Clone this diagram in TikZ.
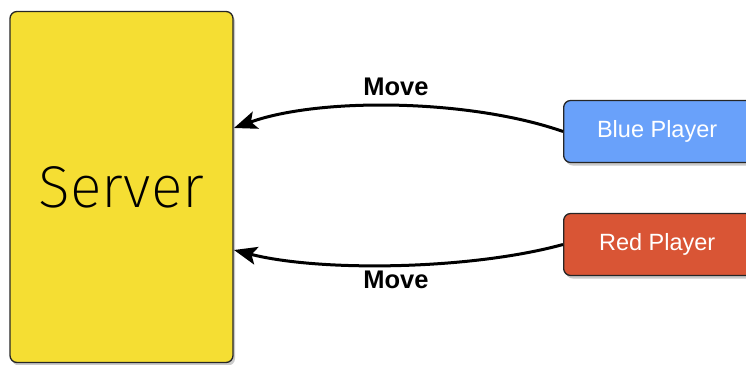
\documentclass[tikz,border=0pt]{standalone}
\usepackage{fontspec}
\setmainfont{Liberation Sans}
\newfontfamily\lightfont{Fira Sans}[UprightFont={* ExtraLight}]
\usetikzlibrary{arrows.meta,shadows}
\definecolor{srvyellow}{HTML}{F5DE33}
\definecolor{plblue}{HTML}{69A1FA}
\definecolor{plred}{HTML}{D95535}
\begin{document}
\begin{tikzpicture}[x=1pt,y=-1pt,
  boxstyle/.style={draw=black!85,line width=1.3pt,rounded corners=7pt,
    drop shadow={shadow xshift=2pt,shadow yshift=-3pt,opacity=0.35,fill=black!60}},
  playerbox/.style={boxstyle,minimum width=200pt,minimum height=62pt,text=white,
    font=\fontsize{23.5}{26}\selectfont,inner sep=0pt},
  movearrow/.style={line width=3pt,-{Stealth[length=23pt,width=18pt,inset=5pt]}},
  movelabel/.style={font=\bfseries\fontsize{25.5}{28}\selectfont}]
\useasboundingbox (0,0) rectangle (746,364);
\clip (0,0) rectangle (746,364);
\node[boxstyle,fill=srvyellow,minimum width=223pt,minimum height=351pt,inner sep=0pt,
  font=\lightfont\fontsize{59}{66}\selectfont] (server) at (121.5,187) {Server};
\node[playerbox,fill=plblue,anchor=west] (blue) at (563,131.5) {\hspace*{-13pt}Blue Player};
\node[playerbox,fill=plred,anchor=west] (red) at (563,244.5) {\hspace*{-13pt}Red Player};
\coordinate (s1) at (234,128);
\coordinate (s2) at (234,250);
\draw[movearrow] (blue.west) .. controls (470,99) and (320,97) .. (s1);
\draw[movearrow] (red.west) .. controls (470,270) and (320,272) .. (s2);
\node[movelabel] (m1) at (396,87) {Move};
\node[movelabel] (m2) at (396,280) {Move};
\end{tikzpicture}
\end{document}
